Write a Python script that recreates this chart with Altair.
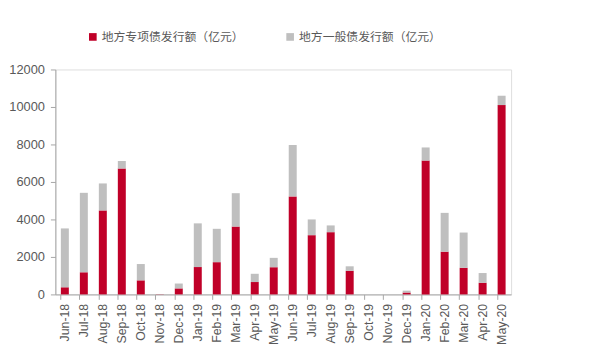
import altair as alt
import pandas as pd

months = ["Jun-18","Jul-18","Aug-18","Sep-18","Oct-18","Nov-18","Dec-18",
          "Jan-19","Feb-19","Mar-19","Apr-19","May-19","Jun-19","Jul-19",
          "Aug-19","Sep-19","Oct-19","Nov-19","Dec-19","Jan-20","Feb-20",
          "Mar-20","Apr-20","May-20"]
special = [380, 1180, 4480, 6720, 750, 10, 320, 1460, 1720, 3620, 660, 1450,
           5230, 3160, 3320, 1260, 0, 0, 100, 7140, 2280, 1420, 620, 10100]
general = [3140, 4240, 1440, 400, 870, 0, 260, 2330, 1780, 1780, 440, 500,
           2740, 840, 360, 240, 0, 0, 100, 700, 2070, 1880, 520, 500]

s1 = "地方专项债发行额（亿元）"
s2 = "地方一般债发行额（亿元）"

rows = []
for m, a, b in zip(months, special, general):
    rows.append({"month": m, "series": s1, "value": a, "ord": 0})
    rows.append({"month": m, "series": s2, "value": b, "ord": 1})
df = pd.DataFrame(rows)

grey = "#595959"
chart = alt.Chart(df).mark_bar().encode(
    x=alt.X("month:N", sort=months, title=None,
            scale=alt.Scale(paddingInner=0.58, paddingOuter=0.29),
            axis=alt.Axis(labelAngle=-90, bandPosition=0, labelColor=grey,
                          labelFont="Liberation Sans", labelFontSize=12.5,
                          domainColor="#A6A6A6", tickColor="#A6A6A6",
                          tickSize=5, labelPadding=4)),
    y=alt.Y("value:Q", stack="zero", title=None,
            scale=alt.Scale(domain=[0, 12000], nice=False),
            axis=alt.Axis(values=[0,2000,4000,6000,8000,10000,12000], grid=False,
                          format="d",
                          labelColor=grey, labelFont="Liberation Sans", labelFontSize=13,
                          domainColor="#A6A6A6", tickColor="#A6A6A6", tickSize=5,
                          labelPadding=6)),
    color=alt.Color("series:N", sort=[s1, s2],
                    scale=alt.Scale(domain=[s1, s2], range=["#C00028", "#BFBFBF"]),
                    legend=alt.Legend(title=None, orient="none", direction="horizontal",
                                      legendX=32, legendY=-39, symbolType="square",
                                      symbolSize=60, labelFont="Noto Sans CJK SC",
                                      labelFontSize=12, labelColor=grey,
                                      columnPadding=40, symbolOffset=0,
                                      labelOffset=3)),
    order=alt.Order("ord:Q", sort="ascending"),
).properties(
    width=462, height=228,
    autosize=alt.AutoSizeParams(type="none"),
    padding={"left": 48, "top": 60, "right": 82, "bottom": 52},
).configure_view(stroke=None).configure(background="white")

chart.save("out.html", embed_options={"renderer": "svg", "actions": False})
